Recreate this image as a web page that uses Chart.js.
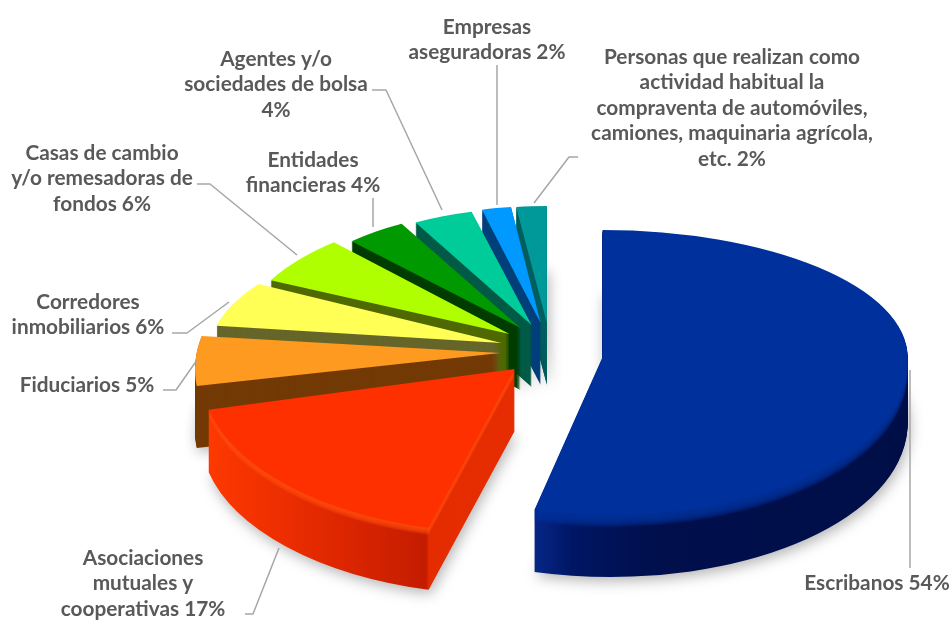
<!DOCTYPE html>
<html><head><meta charset="utf-8">
<style>html,body{margin:0;padding:0;background:#fff}canvas{display:block}</style>
<script src="https://cdn.jsdelivr.net/npm/chart.js@4"></script>
</head><body>
<canvas id="c" width="952" height="620"></canvas>
<script>
// ---- data ----
const categories = ['Escribanos','Asociaciones mutuales y cooperativas','Fiduciarios','Corredores inmobiliarios',
  'Casas de cambio y/o remesadoras de fondos','Entidades financieras','Agentes y/o sociedades de bolsa',
  'Empresas aseguradoras','Personas que realizan como actividad habitual la compraventa de automóviles, camiones, maquinaria agrícola, etc.'];
const values = [54,17,5,6,6,4,4,2,2];
// ---- styles ----
const topColors  = ['#00309b','#ff3000','#ff9a20','#ffff55','#b0ff00','#009900','#00cc99','#0099ff','#009999'];
const wallColors = ['#000f4d','#e02800','#733a05','#66662a','#4f6a00','#003d00','#005a45','#00407a','#005f5f'];
// per-slice perspective approximation
const radii   = [305,314,302,288,270,247,241,236,245];
const ryUp    = [127,164,160,118,126,119,117,117,117];
const ryDown  = [158,164,160,118,126,119,117,117,117];
const shxUp   = [0,-.05,-.275,-.35,-.1,0,0,0,0];
const shxDown = [.05,-.05,-.275,-.35,-.1,0,0,0,0];
const shy     = [0,0,.023,.034,0,0,0,0,0];
const explodes = [53,50,50,50,50,50,50,50,50];
const explodeK = [1.1,.54,.54,.54,.54,.54,.54,.54,.54];
const depth = 62;
const labelLines = [
  [['Escribanos 54%'],877,583],
  [['Asociaciones','mutuales y','cooperativas 17%'],143,558],
  [['Fiduciarios 5%'],87,385],
  [['Corredores','inmobiliarios 6%'],88,302],
  [['Casas de cambio','y/o remesadoras de','fondos 6%'],102,153],
  [['Entidades','financieras 4%'],313,160],
  [['Agentes y/o','sociedades de bolsa','4%'],276,59],
  [['Empresas','aseguradoras 2%'],487,27],
  [['Personas que realizan como','actividad habitual la','compraventa de automóviles,','camiones, maquinaria agrícola,','etc. 2%'],732,57]
];
const leaders = [
  [[910,370],[910,568]],
  [[279,548],[253,614],[245,614]],
  [[197,360],[176,390],[163,390]],
  [[229,302],[187,333],[172,333]],
  [[197,184],[210,184],[297,255]],
  [[373,198],[373,227]],
  [[372,90],[386,90],[442,210]],
  [[497,65],[497,205]],
  [[578,157],[569,157],[534,203]]
];
const FONT = 'bold 20.8px Lato';
const TEXT = '#595959';

function axOf(arc,i){const m=(arc.startAngle+arc.endAngle)/2;return arc.x+explodes[i]*Math.cos(m);}
function wallFill(ctx, i, arc){
  const ax = axOf(arc,i), sx = radii[i]/arc.outerRadius;
  const L = X => (X-ax)/sx + arc.x;
  if(i===1){
    const g = ctx.createLinearGradient(L(205),0,L(515),0);
    const st = X => (X-205)/310;
    g.addColorStop(0,'#ff3a00'); g.addColorStop(st(300),'#ea2c00'); g.addColorStop(st(434),'#c41c00');
    g.addColorStop(st(437),'#e52c00'); g.addColorStop(1,'#e62c00');
    return g;
  }
  if(i===0){
    const g = ctx.createLinearGradient(L(525),0,L(910),0);
    g.addColorStop(0,'#062788'); g.addColorStop(.1,'#001665'); g.addColorStop(.3,'#000f4d'); g.addColorStop(1,'#000e48');
    return g;
  }
  return wallColors[i];
}
const baseOpts = {borderWidth:0,borderColor:'transparent',offset:0,spacing:0,circular:true,borderAlign:'center',
  borderRadius:0,borderJoinStyle:'round',borderDash:[],borderDashOffset:0,selfJoin:false};

function drawFace(ctx, arc, i, fill, dy){
  const mid = (arc.startAngle+arc.endAngle)/2;
  const ax = axOf(arc,i);
  const ay = Math.round(arc.y + explodes[i]*explodeK[i]*Math.sin(mid));
  const r = arc.outerRadius;
  const saved = arc.options;
  arc.options = Object.assign({},baseOpts,{backgroundColor:fill});
  const part = (ry,shx,clipTop,clipH)=>{
    ctx.save();
    if(clipH){ctx.beginPath();ctx.rect(0,clipTop,952,clipH);ctx.clip();}
    ctx.translate(ax,ay+dy);
    ctx.transform(radii[i]/r, shy[i]*radii[i]/r, shx*ry/r, ry/r, 0, 0);
    ctx.translate(-arc.x,-arc.y);
    arc.draw(ctx);
    ctx.restore();
  };
  if(ryUp[i]===ryDown[i] && shxUp[i]===shxDown[i]) part(ryUp[i],shxUp[i]);
  else { part(ryUp[i],shxUp[i],0,ay+dy); part(ryDown[i],shxDown[i],ay+dy,620); }
  arc.options = saved;
}

const pie3d = {
  id:'pie3d',
  beforeDatasetsDraw(chart){
    const ctx = chart.ctx, arcs = chart.getDatasetMeta(0).data;
    const order = [8,7,6,5,4,3,2,1,0];
    for(const i of order){
      const arc = arcs[i], fill = wallFill(ctx,i,arc);
      ctx.save();
      ctx.shadowColor='rgba(0,0,0,.3)'; ctx.shadowBlur=14; ctx.shadowOffsetX=2; ctx.shadowOffsetY=4;
      drawFace(ctx,arc,i,fill,depth);
      ctx.restore();
      for(let d=depth-1;d>0;d--) drawFace(ctx,arc,i,fill,d);
      if(i<=1){
        const bevel = i===0?'#00309b':'#ff4a10', n = i===0?12:7;
        for(let d=n;d>0;d--){
          ctx.save(); ctx.globalAlpha=i===0?0.22:0.28;
          drawFace(ctx,arc,i,bevel,d);
          ctx.restore();
        }
      }
      drawFace(ctx,arc,i,topColors[i],0);
    }
    return false;
  },
  afterDraw(chart){
    const ctx = chart.ctx;
    ctx.save();
    ctx.strokeStyle='#a6a6a6'; ctx.lineWidth=1.5; ctx.lineJoin='round';
    for(const pts of leaders){
      ctx.beginPath();
      pts.forEach((p,j)=> j?ctx.lineTo(p[0],p[1]):ctx.moveTo(p[0],p[1]));
      ctx.stroke();
    }
    ctx.fillStyle=TEXT; ctx.font=FONT; ctx.textAlign='center'; ctx.textBaseline='middle';
    for(const [lines,x,y] of labelLines){
      lines.forEach((t,j)=>ctx.fillText(t,x,y+j*25.5));
    }
    ctx.restore();
  }
};

new Chart(document.getElementById('c'),{
  type:'pie',
  data:{labels:categories,datasets:[{data:values,backgroundColor:topColors,borderWidth:0}]},
  options:{
    responsive:false,animation:false,radius:300,
    layout:{padding:{left:148,top:80}},
    plugins:{legend:{display:false},tooltip:{enabled:false}}
  },
  plugins:[pie3d]
});
</script>
</body></html>
